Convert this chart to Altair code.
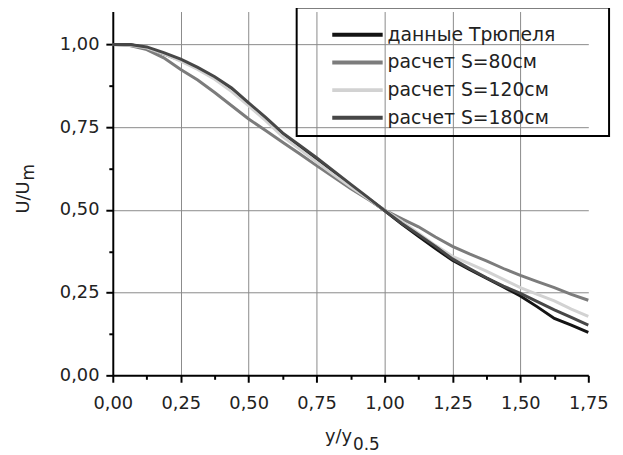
import altair as alt
import pandas as pd

# ---- data ----
x_vals = [0.0, 0.0625, 0.125, 0.1875, 0.25, 0.3125, 0.375, 0.4375, 0.5, 0.5625,
          0.625, 0.6875, 0.75, 0.8125, 0.875, 0.9375, 1.0, 1.0625, 1.125, 1.1875,
          1.25, 1.3125, 1.375, 1.4375, 1.5, 1.5625, 1.625, 1.6875, 1.75]

series_names = ["данные Трюпеля", "расчет S=80см", "расчет S=120см", "расчет S=180см"]
series_colors = ["#141414", "#7c7c7c", "#d2d2d2", "#474747"]

trupel = [1.0, 1.0, 0.99, 0.972, 0.952, 0.927, 0.898, 0.864, 0.82, 0.776,
          0.729, 0.692, 0.654, 0.614, 0.574, 0.536, 0.498, 0.458, 0.42, 0.383,
          0.348, 0.32, 0.294, 0.267, 0.24, 0.207, 0.172, 0.152, 0.13]
s80 = [1.0, 0.997, 0.985, 0.96, 0.925, 0.893, 0.855, 0.815, 0.775, 0.74,
       0.705, 0.67, 0.634, 0.6, 0.565, 0.533, 0.5, 0.474, 0.449, 0.418,
       0.39, 0.367, 0.346, 0.323, 0.302, 0.283, 0.265, 0.245, 0.227]
s120 = [1.0, 0.998, 0.99, 0.972, 0.95, 0.925, 0.895, 0.858, 0.815, 0.77,
        0.722, 0.684, 0.645, 0.607, 0.57, 0.535, 0.5, 0.466, 0.43, 0.393,
        0.36, 0.338, 0.315, 0.29, 0.265, 0.245, 0.225, 0.2, 0.178]
s180 = [1.0, 1.0, 0.993, 0.976, 0.956, 0.931, 0.903, 0.869, 0.824, 0.78,
        0.733, 0.696, 0.658, 0.618, 0.578, 0.539, 0.499, 0.46, 0.425, 0.39,
        0.352, 0.323, 0.295, 0.27, 0.248, 0.223, 0.198, 0.175, 0.152]

x_ticks = [0.0, 0.125, 0.25, 0.375, 0.5, 0.625, 0.75, 0.875, 1.0, 1.125, 1.25,
           1.375, 1.5, 1.625, 1.75]
y_ticks = [0.0, 0.125, 0.25, 0.375, 0.5, 0.625, 0.75, 0.875, 1.0]

x_title_main = "y/y"
x_title_sub = "0.5"
y_title_main = "U/U"
y_title_sub = "m"

rows = []
for name, vals in zip(series_names, [trupel, s80, s120, s180]):
    for i, (xv, yv) in enumerate(zip(x_vals, vals)):
        rows.append({"x": xv, "y": yv, "series": name, "ord": i})
df = pd.DataFrame(rows)

FONT = "DejaVu Sans"
major = "abs(datum.value*4 - round(datum.value*4)) < 0.001"
lab = f"{major} ? replace(format(datum.value, '.2f'), '.', ',') : ''"

x_axis = alt.Axis(
    values=x_ticks, labelExpr=lab, title=None, labelFlush=False,
    tickSize={"condition": {"test": major, "value": 7}, "value": 4},
    gridOpacity={"condition": {"test": f"{major} && datum.value > 0.01 && datum.value < 1.7", "value": 1}, "value": 0},
    labelPadding=13,
)
y_axis = alt.Axis(
    values=y_ticks, labelExpr=lab, title=None, labelFlush=False,
    tickSize={"condition": {"test": major, "value": 7}, "value": 4},
    gridOpacity={"condition": {"test": f"{major} && datum.value > 0.01", "value": 1}, "value": 0},
    labelPadding=7,
)

# blank (braille-blank) spacer title that sets the legend frame's width
legend_spacer = "\u2800" * 48

lines = alt.Chart(df).mark_line(strokeWidth=3).encode(
    x=alt.X("x:Q", scale=alt.Scale(domain=[0, 1.75], nice=False, zero=False), axis=x_axis),
    y=alt.Y("y:Q", scale=alt.Scale(domain=[0, 1.1], nice=False), axis=y_axis),
    color=alt.Color(
        "series:N",
        scale=alt.Scale(domain=series_names, range=series_colors),
        sort=series_names,
        legend=alt.Legend(
            title=legend_spacer, titleFontSize=8, titlePadding=1, titleLimit=500,
            titleFont=FONT, titleOpacity=0,
            orient="none", legendX=186, legendY=-4,
            symbolType="M-3,0H3", symbolSize=289, symbolStrokeWidth=4,
            symbolOffset=43, labelOffset=20,
            labelFont=FONT, labelFontSize=19, labelColor="#222", labelLimit=230,
            padding=8, rowPadding=7, strokeColor="black",
        ),
    ),
    order="ord:Q",
)

xt = alt.Chart(pd.DataFrame({"t": [x_title_main]})).mark_text(
    font=FONT, fontSize=18, align="right", baseline="alphabetic", color="#222"
).encode(text="t:N", x=alt.value(242), y=alt.value(435))
xs = alt.Chart(pd.DataFrame({"t": [x_title_sub]})).mark_text(
    font=FONT, fontSize=17, align="left", baseline="alphabetic", color="#222"
).encode(text="t:N", x=alt.value(243), y=alt.value(444))
yt = alt.Chart(pd.DataFrame({"t": [y_title_main]})).mark_text(
    font=FONT, fontSize=18, align="right", baseline="alphabetic", angle=270, color="#222"
).encode(text="t:N", x=alt.value(-85), y=alt.value(172))
ys = alt.Chart(pd.DataFrame({"t": [y_title_sub]})).mark_text(
    font=FONT, fontSize=17, align="left", baseline="alphabetic", angle=270, color="#222"
).encode(text="t:N", x=alt.value(-80), y=alt.value(171))

chart = alt.layer(lines, xt, xs, yt, ys).properties(
    width=481, height=368,
    autosize=alt.AutoSizeParams(type="none"),
    padding={"left": 106, "top": 1, "right": 27, "bottom": 76},
).configure_view(stroke=None).configure_axis(
    domainColor="black", domainWidth=2, tickColor="black", tickWidth=2,
    gridColor="#8a8a8a", gridWidth=1,
    labelFont=FONT, labelFontSize=18, labelColor="#222",
).configure_legend(strokeWidth=2)

chart.save("out.html", embed_options={"renderer": "svg", "actions": False})
